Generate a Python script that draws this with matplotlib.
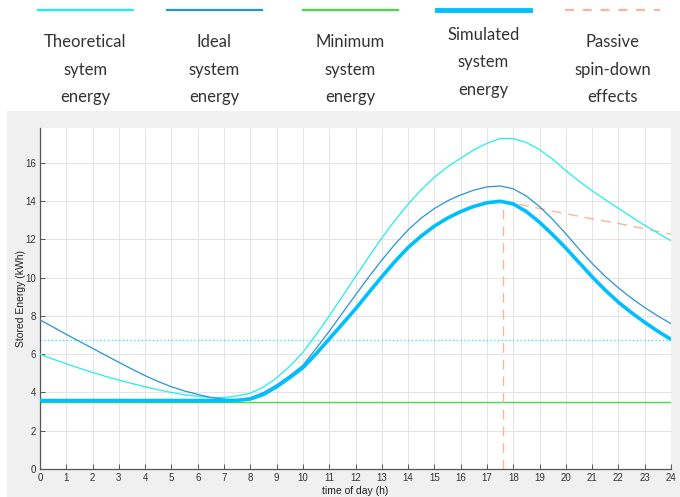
import matplotlib
matplotlib.use("Agg")
import matplotlib.pyplot as plt
from matplotlib.lines import Line2D
from matplotlib.patches import Rectangle

# ---- data (hours, kWh) ----
hours = [0, 0.5, 1, 1.5, 2, 2.5, 3, 3.5, 4, 4.5, 5, 5.5, 6, 6.5, 7, 7.5, 8, 8.5,
         9, 9.5, 10, 10.5, 11, 11.5, 12, 12.5, 13, 13.5, 14, 14.5, 15, 15.5, 16,
         16.5, 17, 17.5, 18, 18.5, 19, 19.5, 20, 20.5, 21, 21.5, 22, 22.5, 23,
         23.5, 24]

theoretical = [6.0, 5.74, 5.5, 5.27, 5.05, 4.84, 4.65, 4.47, 4.3, 4.14, 4.0, 3.88,
               3.8, 3.73, 3.74, 3.82, 3.96, 4.28, 4.76, 5.38, 6.1, 7.02, 8.0, 9.03,
               10.06, 11.08, 12.07, 13.0, 13.85, 14.6, 15.25, 15.8, 16.25, 16.68,
               17.03, 17.28, 17.28, 17.07, 16.7, 16.2, 15.6, 15.05, 14.55, 14.08,
               13.63, 13.18, 12.74, 12.33, 11.94]

ideal = [7.8, 7.42, 7.04, 6.67, 6.31, 5.94, 5.58, 5.22, 4.88, 4.57, 4.3, 4.08,
         3.9, 3.74, 3.65, 3.62, 3.72, 4.0, 4.4, 4.88, 5.42, 6.3, 7.2, 8.15,
         9.1, 10.03, 10.92, 11.75, 12.5, 13.12, 13.62, 14.02, 14.33, 14.58,
         14.75, 14.8, 14.65, 14.27, 13.72, 13.05, 12.3, 11.5, 10.75, 10.07,
         9.47, 8.93, 8.44, 8.0, 7.6]

simulated = [3.58, 3.58, 3.58, 3.58, 3.58, 3.58, 3.58, 3.58, 3.58, 3.58, 3.58,
             3.58, 3.58, 3.58, 3.58, 3.59, 3.66, 3.9, 4.3, 4.78, 5.3, 6.02, 6.8,
             7.58, 8.37, 9.22, 10.05, 10.85, 11.58, 12.18, 12.7, 13.12, 13.46,
             13.73, 13.92, 14.0, 13.86, 13.46, 12.9, 12.25, 11.55, 10.8, 10.05,
             9.35, 8.72, 8.17, 7.67, 7.2, 6.78]

minimum_energy = 3.5
reference_level = 6.75

spin_start_hour = 17.6
spin_hours = [17.6, 18, 19, 20, 21, 22, 23, 24]
spin_energy = [14.0, 13.9, 13.62, 13.35, 13.08, 12.84, 12.56, 12.28]

legend_labels = ["Theoretical\nsytem\nenergy", "Ideal\nsystem\nenergy",
                 "Minimum\nsystem\nenergy", "Simulated\nsystem\nenergy",
                 "Passive\nspin-down\neffects"]

x_ticks = list(range(0, 25))
y_ticks = list(range(0, 17, 2))

# ---- styling ----
C_THEO = "#22eeee"
C_IDEAL = "#2a93d5"
C_MIN = "#44dd44"
C_SIM = "#00bfff"
C_SPIN = "#f8b49c"
C_DOT = "#22dfff"

W, H = 680, 497
fig = plt.figure(figsize=(W / 100, H / 100), dpi=100)
fig.patch.set_facecolor("white")

# grey panel behind the plot
fig.add_artist(Rectangle((7 / W, 0), 1 - 7 / W, (H - 111) / H,
                         transform=fig.transFigure, facecolor="#f0f0f0",
                         edgecolor="none", zorder=0))

ax = fig.add_axes([40 / W, (H - 469) / H, (671 - 40) / W, (469 - 128) / H])
ax.set_facecolor("white")
ax.set_zorder(1)

ax.plot(hours, theoretical, color=C_THEO, lw=0.9, zorder=3)
ax.plot(hours, ideal, color=C_IDEAL, lw=0.9, zorder=3)
ax.axhline(minimum_energy, color=C_MIN, lw=1.0, zorder=2)
ax.axhline(reference_level, color=C_DOT, lw=0.9, ls=(0, (1, 2)), zorder=2)
ax.plot(hours, simulated, color=C_SIM, lw=2.6, zorder=4)
spin_peak = max(simulated)
ax.plot([spin_start_hour, spin_start_hour], [0, spin_peak], color=C_SPIN,
        lw=1.0, ls=(0, (7, 5)), zorder=2)
ax.plot(spin_hours, spin_energy, color=C_SPIN, lw=1.0, ls=(0, (7, 5)), zorder=2)

ax.set_xlim(0, 24)
ax.set_ylim(0, 17.83)
ax.set_xticks(x_ticks)
ax.set_yticks(y_ticks)
ax.grid(True, color="#e4e4e4", lw=0.7)
ax.set_axisbelow(True)
for s in ("top", "right"):
    ax.spines[s].set_visible(False)
for s in ("left", "bottom"):
    ax.spines[s].set_color("#555555")
    ax.spines[s].set_linewidth(0.9)
ax.tick_params(direction="in", length=3.5, width=0.7, color="#555555",
               labelsize=7, labelcolor="#333333", pad=3)
for lab in ax.get_xticklabels() + ax.get_yticklabels():
    lab.set_family("Liberation Sans")
ax.set_xlabel("time of day (h)", fontsize=7.5, color="#222222",
              family="Liberation Sans", labelpad=2)
ax.set_ylabel("Stored Energy (kWh)", fontsize=7.5, color="#222222",
              family="Liberation Sans", labelpad=-1)

# ---- legend strip above the plot ----
leg_specs = [
    (38, 133, C_THEO, 1.6, "-", 0),
    (167, 262, C_IDEAL, 1.6, "-", 0),
    (303, 398, C_MIN, 1.6, "-", 0),
    (437, 530, C_SIM, 3.5, "-", -7),
    (565, 660, C_SPIN, 1.6, (0, (4, 4)), 0),
]
line_y = 1 - 10 / H
for (x0, x1, col, lw, ls, dy), label in zip(leg_specs, legend_labels):
    fig.add_artist(Line2D([x0 / W, x1 / W], [line_y, line_y],
                          transform=fig.transFigure, color=col, lw=lw, ls=ls))
    fig.text((x0 + x1) / 2 / W, 1 - (69.5 + dy) / H, label, ha="center",
             va="center", fontsize=12, family="Lato", fontweight="normal",
             color="#333333", linespacing=1.85)

fig.savefig("out.png", dpi=100)
